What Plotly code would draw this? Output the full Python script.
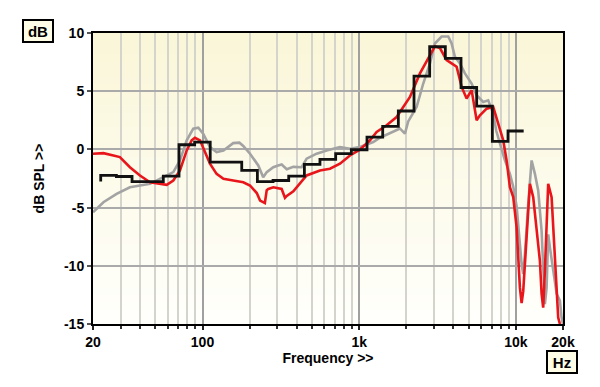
import plotly.graph_objects as go

# ---------------- data ----------------
gray_f = [20, 23.3, 28.3, 34.4, 39.9, 46.2, 56.2, 65.1, 71.8, 79.3, 87.3, 94, 101, 111.6, 123, 136, 157,
          172, 182, 201, 227, 244, 257, 283, 304, 320, 345, 380, 429, 462, 535, 620, 754, 873, 1011,
          1230, 1357, 1572, 1820, 1959, 2056, 2326, 2564, 2830, 3044, 3360, 3703, 3891, 4084, 4396,
          4732, 5222, 5620, 6192, 6664, 7170, 7500, 8000, 8500, 9166, 9624, 10116, 10618, 10886, 11144,
          11428, 11996, 12608, 13234, 13890, 14600, 14948, 15326, 15714, 16090, 16496, 17316, 18204,
          19110, 19590, 20000]
gray_db = [-5.4, -4.54, -3.82, -3.25, -3.1, -2.96, -2.38, -1.95, -0.95, 0.78, 1.78, 1.87, 1.35, 0.2, -0.23,
           -0.09, 0.54, 0.58, 0.3, -0.37, -1.38, -2.4, -1.95, -1.53, -1.38, -1.3, -1.7, -1.5, -1.53, -0.8,
           -0.37, -0.09, 0.2, 0.06, 0.2, 0.63, 1.0, 1.4, 1.8, 1.35, 2.4, 3.65, 5.66, 7.39, 9.1, 9.7, 9.7,
           9.1, 7.96, 7.39, 6.53, 5.66, 4.66, 4.08, 4.22, 3.08, 1.6, 0.3, -0.9, -2.1, -3.2, -4.9, -8.4,
           -9.85, -10.7, -9.0, -4.7, -0.95, -2.1, -3.53, -7.0, -10.4, -13.3, -11.9, -7.3, -8.4, -10.4,
           -12.4, -13.0, -14.45, -15.0]

red_f = [20, 23.3, 27, 29.7, 34.4, 39.9, 46.2, 53.5, 59.1, 65.1, 71.8, 79.3, 85.3, 89.5, 96.4, 103.7,
         111.6, 123, 136, 157, 182, 201, 222, 233, 244, 250, 257, 263, 283, 320, 336, 345, 380, 419,
         462, 562, 651, 754, 873, 1011, 1172, 1293, 1497, 1734, 1820, 2109, 2443, 2830, 3044, 3277,
         3614, 3891, 4188, 4508, 4852, 5222, 5620, 5898, 6508, 7170, 7718, 8308, 8730, 9166, 9624,
         10116, 10618, 10886, 11144, 11716, 12300, 12908, 13568, 14242, 14600, 14948, 15326, 16090,
         16914, 17754, 18204, 18638, 19110]
red_db = [-0.37, -0.32, -0.52, -0.66, -1.53, -2.24, -2.82, -2.96, -3.05, -2.67, -1.81, -0.09, 0.78, 1.0,
          0.78, -0.23, -1.23, -2.1, -2.53, -2.67, -2.82, -3.1, -3.75, -4.4, -4.55, -4.6, -3.5, -3.4,
          -3.25, -3.4, -4.16, -4.0, -3.6, -2.96, -2.24, -1.81, -1.66, -1.23, -0.52, -0.03, 0.78, 1.5,
          2.07, 2.78, 3.22, 4.51, 6.53, 8.1, 8.85, 8.7, 7.67, 7.39, 7.1, 5.37, 4.37, 5.09, 2.5, 2.93,
          3.5, 3.65, 2.3, 0.78, -0.95, -3.25, -4.1, -6.7, -11.9, -13.2, -12.2, -7.56, -2.96, -4.1,
          -6.98, -9.57, -12.4, -13.6, -10.4, -2.96, -4.1, -9.0, -12.4, -14.45, -15.0]

# third-octave band edges and band levels (black step curve)
band_edges = [22.4, 28.2, 35.5, 44.7, 56.2, 70.8, 89.1, 112, 141, 178, 224, 282, 355, 447, 562, 708,
              891, 1122, 1413, 1778, 2239, 2818, 3548, 4467, 5623, 7079, 8913, 11220]
band_db = [-2.24, -2.33, -2.76, -2.76, -2.30, 0.40, 0.63, -1.09, -1.09, -1.81, -2.76, -2.67, -2.30,
           -1.29, -0.86, -0.37, -0.03, 1.06, 1.98, 3.3, 6.29, 8.82, 7.82, 5.32, 3.71, 0.69, 1.58]
band_start_db = -2.75

x_tickvals = [20, 100, 1000, 10000, 20000]
x_ticktext = ["20", "100", "1k", "10k", "20k"]
x_minor = [30, 40, 50, 60, 70, 80, 90, 200, 300, 400, 500, 600, 700, 800, 900,
           2000, 3000, 4000, 5000, 6000, 7000, 8000, 9000]
y_tickvals = [10, 5, 0, -5, -10, -15]
y_ticktext = ["10", "5", "0", "-5", "-10", "-15"]

# ---------------- figure ----------------
FONT = "Liberation Sans, Arial, sans-serif"
fig = go.Figure()

fig.add_trace(go.Scatter(x=gray_f, y=gray_db, mode="lines",
                         line=dict(color="#a3a3a3", width=2.6), hoverinfo="skip"))
fig.add_trace(go.Scatter(x=red_f, y=red_db, mode="lines",
                         line=dict(color="#e8161b", width=2.6), hoverinfo="skip"))
step_x = [band_edges[0]] + band_edges
step_y = [band_start_db] + band_db + [band_db[-1]]
fig.add_trace(go.Scatter(x=step_x, y=step_y, mode="lines", line_shape="hv",
                         line=dict(color="#111111", width=2.8), hoverinfo="skip"))

# gradient background (cream at top to near-white at bottom)
n = 40
top = (250, 246, 216)
bot = (255, 255, 252)
shapes = []
for i in range(n):
    t = i / (n - 1)
    c = tuple(round(bot[k] + (top[k] - bot[k]) * t) for k in range(3))
    shapes.append(dict(type="rect", xref="paper", yref="paper", x0=0, x1=1,
                       y0=i / n, y1=(i + 1) / n + 0.002, layer="below",
                       line=dict(width=0), fillcolor="rgb(%d,%d,%d)" % c))

# page body has an 8px margin, so the figure is placed at (8, 8)
W, H = 592, 379
L, T = 93 - 8, 33 - 8
PW, PH = 470, 291
fig.update_layout(
    width=W, height=H,
    margin=dict(l=L, r=W - L - PW, t=T, b=H - T - PH, autoexpand=False),
    paper_bgcolor="white", plot_bgcolor="rgba(0,0,0,0)",
    showlegend=False,
    shapes=shapes,
    font=dict(family=FONT, size=14, color="black"),
)
fig.update_xaxes(
    type="log", range=[1.30103, 4.30103],
    tickvals=x_tickvals, ticktext=x_ticktext,
    tickfont=dict(family=FONT, size=14, color="black", weight="bold"),
    ticks="outside", ticklen=4, tickwidth=1.5, tickcolor="#222",
    showgrid=True, gridcolor="#a0a0a0", gridwidth=1.5,
    minor=dict(tickvals=x_minor, ticks="outside", ticklen=3, tickwidth=1.5, tickcolor="#333",
               showgrid=True, gridcolor="#d4d4cc", gridwidth=2),
    showline=True, linecolor="black", linewidth=2, mirror=True,
    title=dict(text="<b>Frequency >></b>", font=dict(family=FONT, size=14), standoff=4),
    zeroline=False, automargin=False,
)
fig.update_yaxes(
    range=[-15, 10], tickvals=y_tickvals, ticktext=y_ticktext,
    tickfont=dict(family=FONT, size=14, color="black", weight="bold"),
    ticks="outside", ticklen=4, tickwidth=1.5, tickcolor="#555",
    showgrid=True, gridcolor="#aaaaaa", gridwidth=1.5,
    showline=True, linecolor="black", linewidth=2, mirror=True,
    zeroline=False, automargin=False,
    title=dict(text="<b>dB SPL >></b>", font=dict(family=FONT, size=14), standoff=16),
)

fig.add_annotation(text="<b>dB</b>", xref="paper", yref="paper", x=(37.5 - 93) / PW,
                   y=(324 - 31.3) / PH, showarrow=False, xanchor="center", yanchor="middle",
                   font=dict(family=FONT, size=15, color="black"),
                   bgcolor="#fffde6", bordercolor="black", borderwidth=2, borderpad=0,
                   width=28, height=20)
fig.add_annotation(text="<b>Hz</b>", xref="paper", yref="paper", x=(562 - 93) / PW,
                   y=-(361.7 - 324) / PH, showarrow=False, xanchor="center", yanchor="middle",
                   font=dict(family=FONT, size=15, color="black"),
                   bgcolor="#fffde6", bordercolor="black", borderwidth=2, borderpad=0,
                   width=28, height=20)

fig.write_html("out.html")
